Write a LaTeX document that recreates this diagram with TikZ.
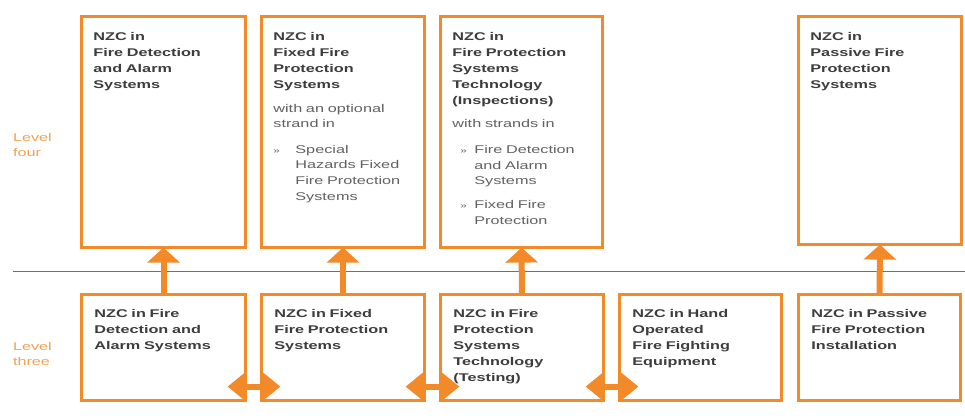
\documentclass[tikz,border=0pt]{standalone}
\usepackage{fontspec}
\newfontfamily\dfont[FakeStretch=1.45]{Liberation Sans}
\usetikzlibrary{arrows.meta}
\definecolor{nzorange}{HTML}{F28A2A}
\definecolor{lvl}{HTML}{F3A252}
\definecolor{boldtxt}{HTML}{3D3D3D}
\definecolor{regtxt}{HTML}{626262}
\definecolor{rulegray}{HTML}{707070}
\newcommand{\blt}[1]{\makebox[22pt][l]{\hspace*{#1}{\fontsize{8}{8}\selectfont »}}}
\newcommand{\regpart}{\par\color{regtxt}\mdseries\fontsize{11.2}{15.5}\selectfont}
\begin{document}
\begin{tikzpicture}[x=1pt,y=-1pt,
  box/.style={draw=nzorange, line width=2.8pt, fill=white, rectangle, inner sep=0pt, outer sep=0pt, anchor=north west},
  txt/.style={anchor=north west, inner sep=0pt, outer sep=0pt, text width=150pt, align=left,
    font=\dfont\bfseries\fontsize{11.2}{16}\selectfont, text=boldtxt},
  lvltxt/.style={anchor=north west, inner sep=0pt, outer sep=0pt, align=left,
    font=\dfont\fontsize{11.2}{15}\selectfont, text=lvl},
  uparrow/.style={draw=nzorange, line width=6pt, -{Triangle[width=32pt,length=15pt]}},
  dblarrow/.style={draw=nzorange, line width=6pt, {Triangle[width=28pt,length=18pt]}-{Triangle[width=28pt,length=18pt]}},
  rulestyle/.style={draw=rulegray, line width=1.5pt}
]
\useasboundingbox[fill=white] (0,0) rectangle (965,419);

% level-four boxes
\node[box, minimum width=164.2pt, minimum height=231.2pt] (t1) at (81.4,16.4) {};
\node[box, minimum width=163.2pt, minimum height=231.2pt] (t2) at (261.4,16.4) {};
\node[box, minimum width=162.2pt, minimum height=231.2pt] (t3) at (440.4,16.4) {};
\node[box, minimum width=163.2pt, minimum height=228.2pt] (t4) at (798.4,16.4) {};

% level-three boxes
\node[box, minimum width=164.2pt, minimum height=106.2pt] (b1) at (81.4,294.4) {};
\node[box, minimum width=163.2pt, minimum height=106.2pt] (b2) at (261.4,294.4) {};
\node[box, minimum width=163.2pt, minimum height=106.2pt] (b3) at (440.4,294.4) {};
\node[box, minimum width=162.2pt, minimum height=106.2pt] (b4) at (619.4,294.4) {};
\node[box, minimum width=162.2pt, minimum height=106.2pt] (b5) at (798.4,294.4) {};

% separator
\coordinate (rl) at (13,271.5);
\coordinate (rr) at (965,271.5);
\draw[rulestyle] (rl) -- (rr);

% level labels
\node[lvltxt] (lv4) at (13,133) {Level\\four};
\node[lvltxt] (lv3) at (13,342) {Level\\three};

% texts, level four
\node[txt] (t1l) at ([shift={(12,15.6)}]t1.north west) {NZC in\\Fire Detection\\and Alarm\\Systems};
\node[txt] (t2l) at ([shift={(12,15.6)}]t2.north west) {\parindent=0pt\parskip=0pt NZC in\\Fixed Fire\\Protection\\Systems
  \regpart\vspace{8.5pt}with an optional\\strand in
  \par\vspace{10pt}\blt{0pt}Special\\\hspace*{22pt}Hazards Fixed\\\hspace*{22pt}Fire Protection\\\hspace*{22pt}Systems};
\node[txt] (t3l) at ([shift={(12,15.6)}]t3.north west) {\parindent=0pt\parskip=0pt NZC in\\Fire Protection\\Systems\\Technology\\(Inspections)
  \regpart\vspace{8pt}with strands in
  \par\vspace{10.5pt}\blt{8pt}Fire Detection\\\hspace*{22pt}and Alarm\\\hspace*{22pt}Systems
  \par\vspace{8.5pt}\blt{8pt}Fixed Fire\\\hspace*{22pt}Protection};
\node[txt] (t4l) at ([shift={(12,15.6)}]t4.north west) {NZC in\\Passive Fire\\Protection\\Systems};

% texts, level three
\node[txt] (b1l) at ([shift={(13,14.5)}]b1.north west) {NZC in Fire\\Detection and\\Alarm Systems};
\node[txt] (b2l) at ([shift={(13,14.5)}]b2.north west) {NZC in Fixed\\Fire Protection\\Systems};
\node[txt] (b3l) at ([shift={(13,14.5)}]b3.north west) {NZC in Fire\\Protection\\Systems\\Technology\\(Testing)};
\node[txt] (b4l) at ([shift={(13,14.5)}]b4.north west) {NZC in Hand\\Operated\\Fire Fighting\\Equipment};
\node[txt] (b5l) at ([shift={(13,14.5)}]b5.north west) {NZC in Passive\\Fire Protection\\Installation};

% upward arrows
\draw[uparrow] (b1.north) -- (t1.south);
\draw[uparrow] (b2.north) -- (t2.south);
\draw[uparrow] (b3.north) -- (t3.south);
\draw[uparrow] (b5.north) -- (t4.south);

% double arrows
\draw[dblarrow] ([shift={(-18,-14)}]b1.south east) -- ([shift={(19,-14)}]b2.south west);
\draw[dblarrow] ([shift={(-19,-14)}]b2.south east) -- ([shift={(19,-14)}]b3.south west);
\draw[dblarrow] ([shift={(-18,-14)}]b3.south east) -- ([shift={(19,-14)}]b4.south west);
\end{tikzpicture}
\end{document}
